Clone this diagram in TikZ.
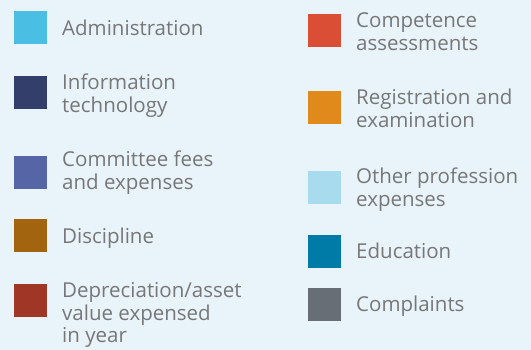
\documentclass[tikz,border=0pt]{standalone}
\usepackage{fontspec}
\setmainfont{Open Sans}
\definecolor{bgblue}{HTML}{E8F4FA}
\definecolor{labelgray}{HTML}{777777}
\definecolor{cAdmin}{HTML}{4BBFE3}
\definecolor{cIT}{HTML}{343E6B}
\definecolor{cCommittee}{HTML}{5565A5}
\definecolor{cDiscipline}{HTML}{A2640F}
\definecolor{cDeprec}{HTML}{A03726}
\definecolor{cCompetence}{HTML}{D94E35}
\definecolor{cRegistration}{HTML}{E08A1C}
\definecolor{cOther}{HTML}{A8DBEE}
\definecolor{cEducation}{HTML}{007BA7}
\definecolor{cComplaints}{HTML}{686E76}
\tikzset{
  swatch/.style={minimum size=33pt, inner sep=0pt, anchor=north west, fill=#1, draw=none},
  % base anchor sits on the baseline of the last line
  legendtext/.style={anchor=base west, inner sep=0pt, align=left, text=labelgray,
    font=\fontsize{20.5}{23}\selectfont},
}
\begin{document}
\begin{tikzpicture}[x=1pt, y=-1pt]
  \fill[bgblue] (0,0) rectangle (531,350);
  \useasboundingbox (0,0) rectangle (531,350);
  % left column
  \node[swatch=cAdmin] (sAdmin) at (14,11) {};
  \node[legendtext] (tAdmin) at (62,36) {Administration};
  \node[swatch=cIT] (sIT) at (14,76) {};
  \node[legendtext] (tIT) at (62,113) {Information\\technology};
  \node[swatch=cCommittee] (sCommittee) at (14,156) {};
  \node[legendtext] (tCommittee) at (62,190) {Committee fees\\and expenses};
  \node[swatch=cDiscipline] (sDiscipline) at (14,219) {};
  \node[legendtext] (tDiscipline) at (62,244) {Discipline};
  \node[swatch=cDeprec] (sDeprec) at (14,284) {};
  \node[legendtext] (tDeprec) at (62,343) {Depreciation/asset\\value expensed\\in year};
  % right column
  \node[swatch=cCompetence] (sCompetence) at (308,14) {};
  \node[legendtext] (tCompetence) at (356,51) {Competence\\assessments};
  \node[swatch=cRegistration] (sRegistration) at (308,91) {};
  \node[legendtext] (tRegistration) at (356,128) {Registration and\\examination};
  \node[swatch=cOther] (sOther) at (308,171) {};
  \node[legendtext] (tOther) at (356,207) {Other profession\\expenses};
  \node[swatch=cEducation] (sEducation) at (308,235) {};
  \node[legendtext] (tEducation) at (356,259) {Education};
  \node[swatch=cComplaints] (sComplaints) at (308,288) {};
  \node[legendtext] (tComplaints) at (356,312) {Complaints};
\end{tikzpicture}
\end{document}
